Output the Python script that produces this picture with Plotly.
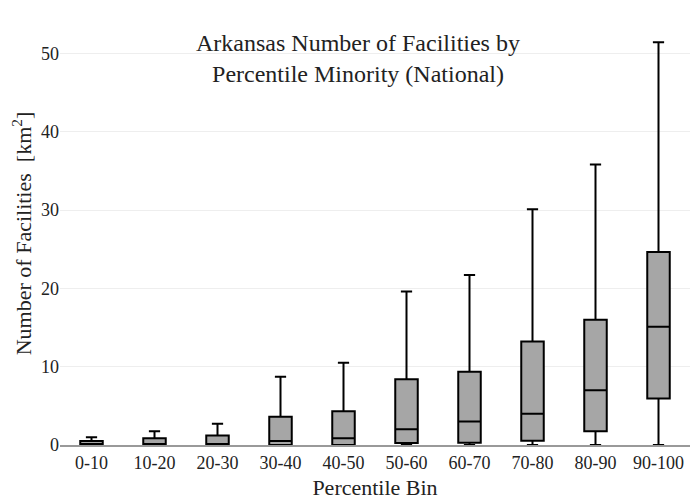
import plotly.graph_objects as go

bins = ["0-10", "10-20", "20-30", "30-40", "40-50", "50-60", "60-70", "70-80", "80-90", "90-100"]
lower = [0, 0, 0, 0, 0, 0, 0, 0, 0, 0]
q1 = [0.0, 0.0, 0.0, 0.0, 0.0, 0.25, 0.3, 0.55, 1.75, 5.95]
median = [0.1, 0.1, 0.1, 0.5, 0.85, 2.0, 3.0, 4.0, 7.0, 15.1]
q3 = [0.5, 0.85, 1.2, 3.6, 4.3, 8.4, 9.35, 13.2, 16.0, 24.65]
upper = [1.0, 1.75, 2.7, 8.7, 10.5, 19.6, 21.7, 30.1, 35.8, 51.4]

font = "Liberation Serif"

fig = go.Figure(go.Box(
    x=bins, q1=q1, median=median, q3=q3, lowerfence=lower, upperfence=upper,
    fillcolor="#a6a6a6", line=dict(color="black", width=2), whiskerwidth=0.5,
    boxpoints=False, showlegend=False,
))

fig.update_layout(
    width=700, height=500,
    margin=dict(l=52, r=18, t=14, b=63),
    paper_bgcolor="white", plot_bgcolor="white",
    font=dict(family=font, color="#222", size=18),
    boxgap=0.49,
    title=dict(text="Arkansas Number of Facilities by<br>Percentile Minority (National)",
               x=0.5, xanchor="center", y=0.915, yanchor="middle",
               font=dict(family=font, size=24, color="#222")),
    xaxis=dict(title=dict(text="Percentile Bin", font=dict(family=font, size=22), standoff=8),
               showline=True, linecolor="#999", linewidth=2, showgrid=False,
               tickfont=dict(family=font, size=18)),
    yaxis=dict(title=dict(text="Number of Facilities  [km<sup>2</sup>]", font=dict(family=font, size=22), standoff=3),
               range=[0, 54], dtick=10, showgrid=True, gridcolor="#eeeeee", zeroline=False,
               tickfont=dict(family=font, size=18)),
)

fig.write_html("out.html")
